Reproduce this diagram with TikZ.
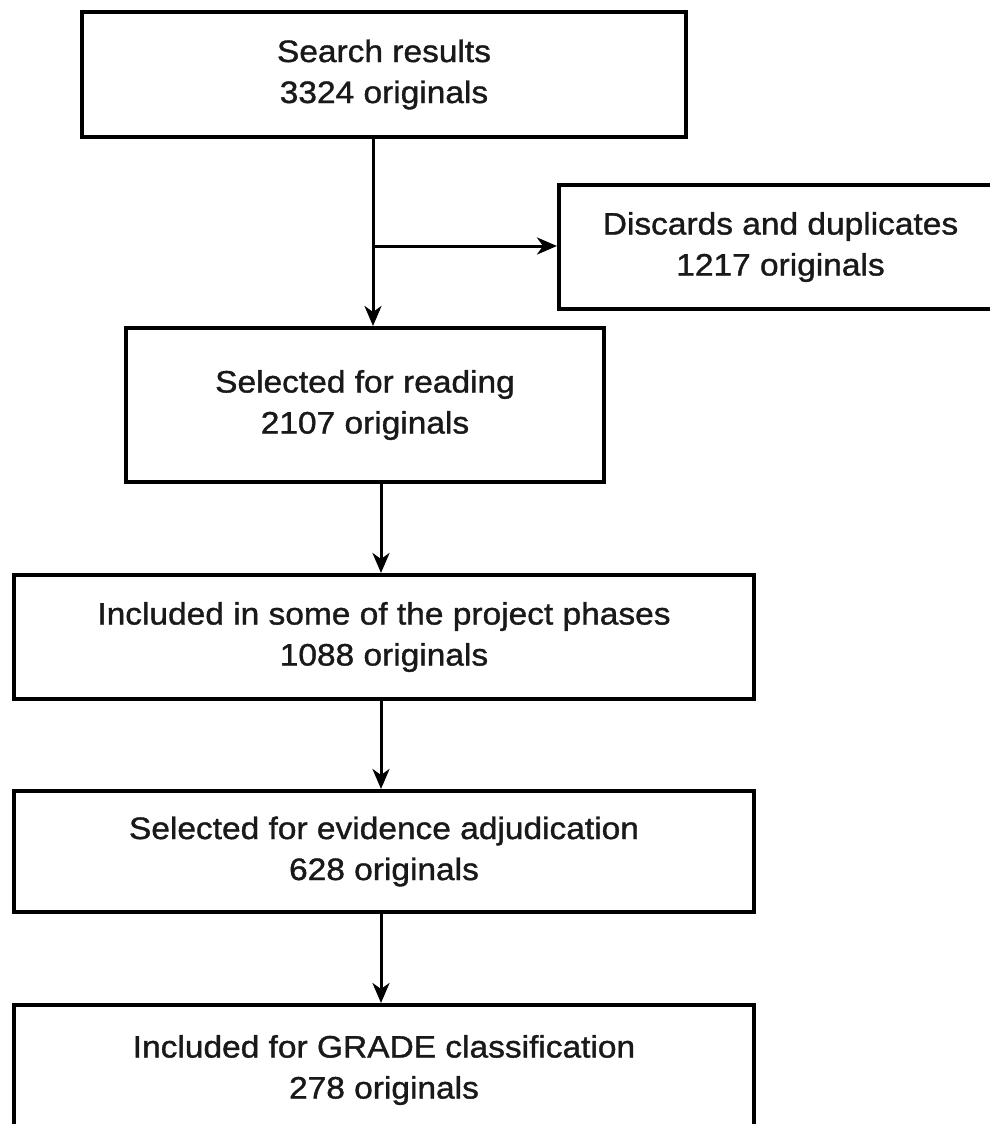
\documentclass[tikz,border=0pt]{standalone}
\usepackage{fontspec}
\setmainfont{Liberation Sans}[FakeStretch=1.08,FakeBold=1.2]
\usetikzlibrary{arrows.meta}
\begin{document}
\begin{tikzpicture}[x=1pt,y=-1pt,
  box/.style={draw=black,line width=4pt,rectangle,anchor=north west,inner sep=0pt,
    align=center,font=\fontsize{31}{41}\selectfont,text=black!90},
  arr/.style={line width=3pt,-{Stealth[length=20pt,width=17pt,inset=6pt]}}]
\useasboundingbox (0,0) rectangle (990,1124);
\node[box,minimum width=604pt,minimum height=125pt] (b1) at (80,10) {Search results\\3324 originals};
\node[box,minimum width=443pt,minimum height=124pt] (b2) at (557,183) {Discards and duplicates\\1217 originals};
\node[box,minimum width=478pt,minimum height=154pt] (b3) at (124,326) {Selected for reading\\2107 originals};
\node[box,minimum width=740pt,minimum height=124pt] (b4) at (12,573) {Included in some of the project phases\\1088 originals};
\node[box,minimum width=740pt,minimum height=121pt] (b5) at (12,789) {Selected for evidence adjudication\\628 originals};
\node[box,minimum width=740pt,minimum height=130pt,yshift=-2pt] (b6) at (12,1001) {Included for GRADE classification\\278 originals};
\coordinate (xa) at (373,0);
\coordinate (xb) at (381,0);
\coordinate (br) at (373,246);
\draw[arr] (b1.south -| xa) -- (b3.north -| xa);
\draw[arr] (br) -- (br -| b2.west);
\draw[arr] (b3.south -| xb) -- (b4.north -| xb);
\draw[arr] (b4.south -| xb) -- (b5.north -| xb);
\draw[arr] (b5.south -| xb) -- (b6.north -| xb);
\end{tikzpicture}
\end{document}
